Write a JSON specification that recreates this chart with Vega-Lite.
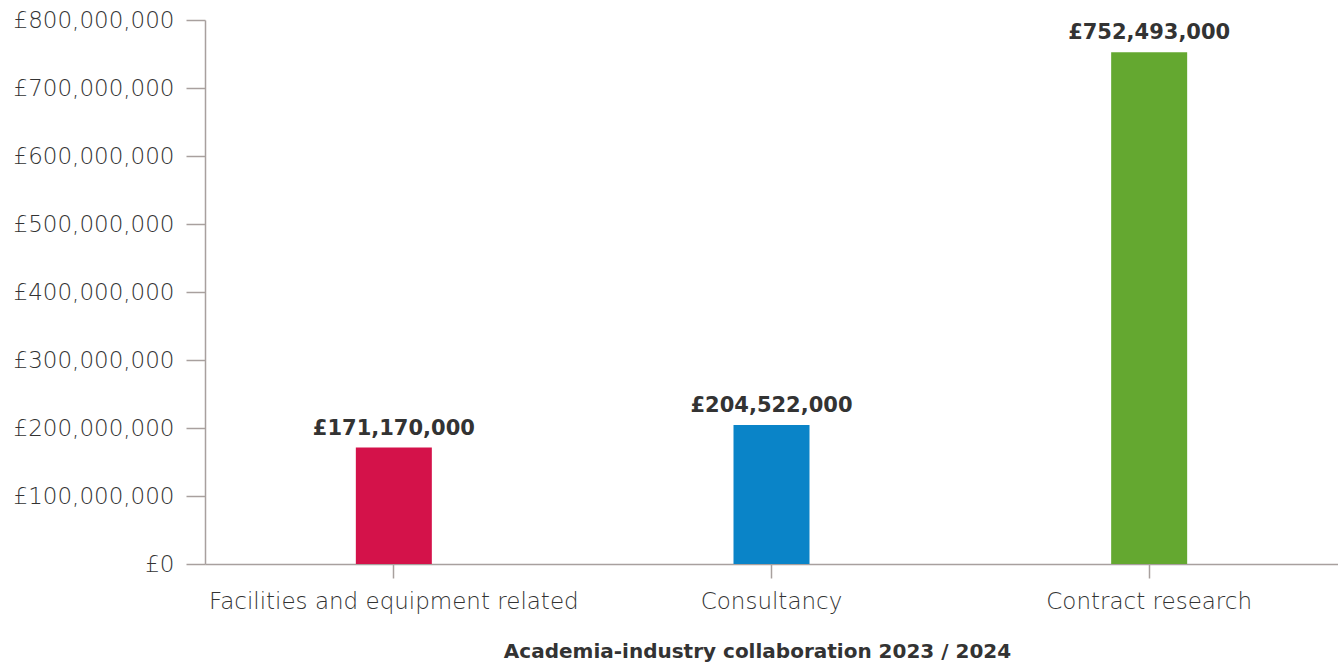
{
  "$schema": "https://vega.github.io/schema/vega-lite/v6.json",
  "autosize": "none",
  "width": 1133,
  "height": 544,
  "padding": {"left": 205, "top": 20, "right": 0, "bottom": 99},
  "background": "white",
  "config": {"view": {"stroke": null}, "font": "DejaVu Sans"},
  "data": {"values": [
    {"category": "Facilities and equipment related", "value": 171170000, "color": "#d4124a"},
    {"category": "Consultancy", "value": 204522000, "color": "#0a84c8"},
    {"category": "Contract research", "value": 752493000, "color": "#64a830"}
  ]},
  "encoding": {
    "x": {
      "field": "category", "type": "nominal", "sort": null,
      "scale": {"paddingInner": 0, "paddingOuter": 0},
      "axis": {
        "title": "Academia-industry collaboration 2023 / 2024",
        "titleFont": "DejaVu Sans", "titleFontSize": 20, "titleFontWeight": "bold", "titleColor": "#333333",
        "titlePadding": 28, "titleX": 552,
        "labelAngle": 0, "labelFont": "DejaVu Sans", "labelFontSize": 23, "labelFontWeight": 200, "labelColor": "#333333", "labelPadding": 12, "labelLimit": 500,
        "domainColor": "#a8a09e", "tickColor": "#a8a09e", "tickSize": 14, "domainWidth": 1.5, "tickWidth": 1.5
      }
    },
    "y": {
      "field": "value", "type": "quantitative",
      "scale": {"domain": [0, 800000000], "nice": false},
      "axis": {
        "title": null, "values": [0,100000000,200000000,300000000,400000000,500000000,600000000,700000000,800000000],
        "labelExpr": "'£' + format(datum.value, ',')",
        "grid": false, "labelFont": "DejaVu Sans", "labelFontSize": 23, "labelFontWeight": 200, "labelColor": "#333333", "labelPadding": 12, "labelLimit": 300,
        "domainColor": "#a8a09e", "tickColor": "#a8a09e", "tickSize": 19, "domainWidth": 1.5, "tickWidth": 1.5
      }
    }
  },
  "layer": [
    {"mark": {"type": "bar", "size": 76}, "encoding": {"color": {"field": "color", "type": "nominal", "scale": null}}},
    {"mark": {"type": "text", "baseline": "bottom", "dy": -9, "font": "DejaVu Sans", "fontSize": 21, "fontWeight": "bold", "color": "#333333"},
     "encoding": {"text": {"field": "value", "type": "quantitative", "format": "$,", "formatType": "number"}}}
  ],
  "usermeta": {"embedOptions": {"formatLocale": {"decimal": ".", "thousands": ",", "grouping": [3], "currency": ["£", ""]}}}
}
